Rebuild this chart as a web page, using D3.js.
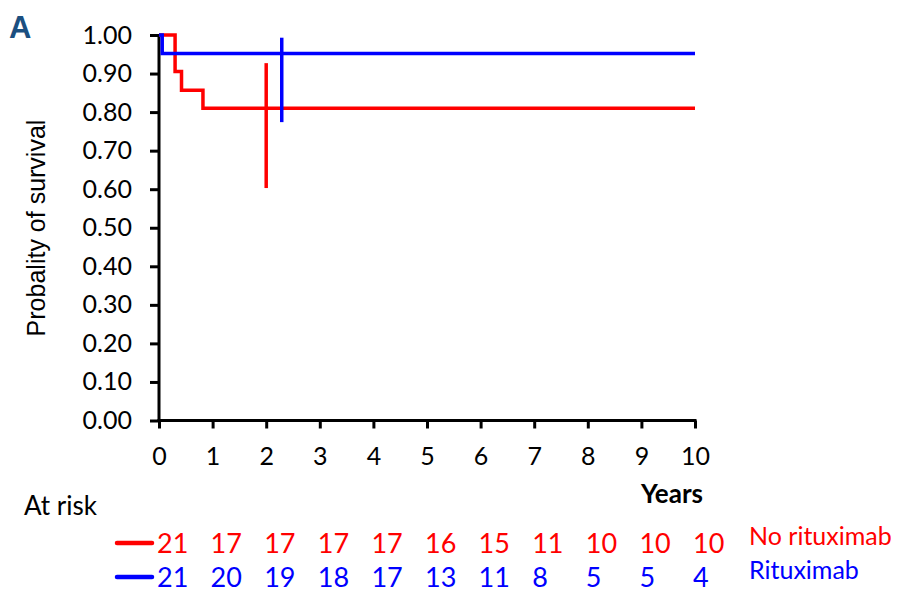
<!DOCTYPE html>
<html><head><meta charset="utf-8">
<script src="https://cdn.jsdelivr.net/npm/d3@7"></script>
<style>body{margin:0;background:#fff;} svg{display:block;}</style>
</head><body>
<script>
// ---- data ----
const years = [0,1,2,3,4,5,6,7,8,9,10];
const yTicks = [0,0.1,0.2,0.3,0.4,0.5,0.6,0.7,0.8,0.9,1.0];
const noRitTimes = [0, 0.30, 0.42, 0.82, 10];
const noRitSurv  = [1.000, 0.905, 0.857, 0.810, 0.810];
const ritTimes = [0, 0.06, 10];
const ritSurv  = [1.000, 0.952, 0.952];
const noRitBar = [2.00, 0.603, 0.927];   // time, low, high
const ritBar   = [2.29, 0.774, 0.993];
const noRitAtRisk = [21,17,17,17,17,16,15,11,10,10,10];
const ritAtRisk   = [21,20,19,18,17,13,11,8,5,5,4];
const seriesNames = ["No rituximab","Rituximab"];
const colors = ["#ff0000","#0000ff"];

const W=903,H=592;
const svg=d3.select("body").append("svg").attr("width",W).attr("height",H);
const x=d3.scaleLinear().domain([0,10]).range([159,695]);
const y=d3.scaleLinear().domain([0,1]).range([420.5,35]);
const numFont="Lato, 'Open Sans', sans-serif";

// panel letter
svg.append("text").attr("x",9).attr("y",38).text("A")
  .attr("font-family","'Liberation Sans', Arial, sans-serif").attr("font-weight","bold")
  .attr("font-size",31).attr("fill","#1b4f80");

// axes
const yAxis=d3.axisLeft(y).tickValues(yTicks).tickFormat(d3.format(".2f")).tickSize(9).tickPadding(18);
const xAxis=d3.axisBottom(x).tickValues(years).tickFormat(d3.format("d")).tickSize(8).tickPadding(24);
const gy=svg.append("g").attr("transform","translate(159,0)").call(yAxis);
const gx=svg.append("g").attr("transform","translate(0,420.5)").call(xAxis);
[gy,gx].forEach(g=>{
  g.select(".domain").attr("stroke","#000").attr("stroke-width",3);
  g.selectAll(".tick line").attr("stroke","#000").attr("stroke-width",3);
  g.selectAll(".tick text").attr("font-family",numFont).attr("font-size",25).attr("fill","#000");
});
gx.selectAll(".tick text").attr("dy","0.5em");
gy.select(".domain").attr("d","M0,35V422");
gx.select(".domain").attr("d","M157.5,0H696.5");

// y title
svg.append("text").attr("transform","translate(45,228) rotate(-90)")
  .attr("text-anchor","middle").attr("font-family","'Liberation Sans', Arial, sans-serif")
  .attr("font-size",25).attr("fill","#000").text("Probality of survival");

// x title
svg.append("text").attr("x",703).attr("y",503).attr("text-anchor","end")
  .attr("font-family",numFont).attr("font-weight","bold").attr("font-size",26).attr("fill","#000").text("Years");

// curves
const line=d3.line().x(d=>x(d[0])).y(d=>y(d[1])).curve(d3.curveStepAfter);
const series=[[noRitTimes,noRitSurv,noRitBar],[ritTimes,ritSurv,ritBar]];
series.forEach((s,i)=>{
  const pts=s[0].map((t,j)=>[t,s[1][j]]);
  svg.append("path").attr("d",line(pts)).attr("fill","none")
    .attr("stroke",colors[i]).attr("stroke-width",3.5);
  svg.append("line").attr("x1",x(s[2][0])).attr("x2",x(s[2][0]))
    .attr("y1",y(s[2][1])).attr("y2",y(s[2][2]))
    .attr("stroke",colors[i]).attr("stroke-width",3.5);
});

// at risk
svg.append("text").attr("x",24).attr("y",515).attr("font-family",numFont)
  .attr("font-size",26).attr("fill","#000").text("At risk");
const rows=[noRitAtRisk,ritAtRisk];
const rowY=[553,587];
rows.forEach((r,i)=>{
  svg.append("line").attr("x1",117).attr("x2",152).attr("y1",rowY[i]-10).attr("y2",rowY[i]-10)
    .attr("stroke",colors[i]).attr("stroke-width",4.5).attr("stroke-linecap","round");
  svg.append("g").selectAll("text").data(r).join("text")
    .attr("x",(d,j)=>x(years[j])-2).attr("y",rowY[i])
    .attr("font-family",numFont).attr("font-size",27).attr("fill",colors[i]).text(d=>d);
  svg.append("text").attr("x",749).attr("y",rowY[i]-8).attr("font-family",numFont)
    .attr("font-size",25).attr("fill",colors[i]).text(seriesNames[i]);
});
</script>
</body></html>
